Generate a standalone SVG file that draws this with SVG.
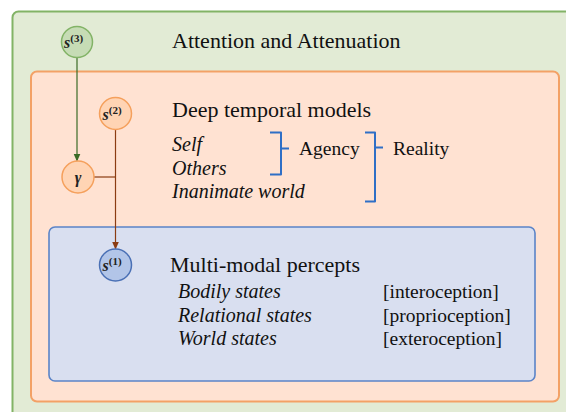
<svg xmlns="http://www.w3.org/2000/svg" width="566" height="412" viewBox="0 0 566 412">
<defs>
<style>
.t{font-family:'Liberation Serif','Tinos','Times New Roman','DejaVu Serif',serif;fill:#111}
.title{font-size:22px}
.it{font-style:italic;font-size:20px}
.lab{font-size:19.5px}
.m{font-family:'Liberation Serif','Tinos','DejaVu Serif',serif;font-style:italic;font-weight:bold;font-size:16px;fill:#222}
.sup{font-style:normal;font-weight:bold;font-size:11px}
.br{fill:none;stroke:#2f6fc6;stroke-width:2;stroke-linejoin:round}
</style>
<marker id="ag" markerWidth="8" markerHeight="8" refX="7" refY="4" orient="auto" markerUnits="userSpaceOnUse"><path d="M0,0.5 L8,4 L0,7.5 Z" fill="#3b6b26"/></marker>
<marker id="ab" markerWidth="8" markerHeight="8" refX="7" refY="4" orient="auto" markerUnits="userSpaceOnUse"><path d="M0,0.5 L8,4 L0,7.5 Z" fill="#8b3c12"/></marker>
</defs>
<rect width="566" height="412" fill="#ffffff"/>
<g id="attention">
<rect x="12.5" y="11.5" width="620" height="460" rx="6" fill="#e2ebd5" stroke="#82b366" stroke-width="2"/>
<text class="t title" x="172" y="48">Attention and Attenuation</text>
</g>
<g id="deep">
<rect x="31" y="71.5" width="528" height="330" rx="6" fill="#ffe2d2" stroke="#f3a166" stroke-width="2"/>
<text class="t title" x="172" y="117">Deep temporal models</text>
<text class="t it" x="172" y="151">Self</text>
<text class="t it" x="172" y="175">Others</text>
<text class="t it" x="172" y="198">Inanimate world</text>
<path class="br" d="M270,132.5 H281 V174.5 H270 M281,148.5 H289"/>
<text class="t lab" x="299" y="155">Agency</text>
<path class="br" d="M365,132.5 H375 V201.5 H365 M375,147.5 H383"/>
<text class="t lab" x="393" y="155">Reality</text>
</g>
<g id="percepts">
<rect x="49" y="227" width="486" height="154" rx="6" fill="#d9dff0" stroke="#5b84c8" stroke-width="1.6"/>
<text class="t title" x="170" y="272">Multi-modal percepts</text>
<text class="t it" x="178" y="298">Bodily states</text>
<text class="t it" x="178" y="322">Relational states</text>
<text class="t it" x="178" y="345">World states</text>
<text class="t lab" x="383" y="298">[interoception]</text>
<text class="t lab" x="383" y="322">[proprioception]</text>
<text class="t lab" x="383" y="345">[exteroception]</text>
</g>
<g id="connectors">
<line x1="77" y1="57.5" x2="77" y2="160.5" stroke="#3b6b26" stroke-width="1.2" marker-end="url(#ag)"/>
<polyline points="94,177 115.5,177" fill="none" stroke="#8b3c12" stroke-width="1.2"/>
<line x1="115.5" y1="129.5" x2="115.5" y2="248.5" stroke="#8b3c12" stroke-width="1.2" marker-end="url(#ab)"/>
</g>
<g id="s3">
<circle cx="77" cy="42" r="15.5" fill="#c6dcb5" stroke="#82b366" stroke-width="1.5"/>
<text class="m" x="64" y="48">s<tspan class="sup" dy="-6">(3)</tspan></text>
</g>
<g id="s2">
<circle cx="115.5" cy="113.5" r="16" fill="#ffd4b4" stroke="#f5a05c" stroke-width="1.5"/>
<text class="m" x="102.5" y="119.5">s<tspan class="sup" dy="-6">(2)</tspan></text>
</g>
<g id="gamma">
<circle cx="78" cy="177" r="16" fill="#ffd4b4" stroke="#f5a05c" stroke-width="1.5"/>
<text class="m" x="78" y="182.5" text-anchor="middle">γ</text>
</g>
<g id="s1">
<circle cx="115.5" cy="265" r="16" fill="#b2c5e8" stroke="#4a70b5" stroke-width="1.5"/>
<text class="m" x="102.5" y="271">s<tspan class="sup" dy="-6">(1)</tspan></text>
</g>
</svg>
